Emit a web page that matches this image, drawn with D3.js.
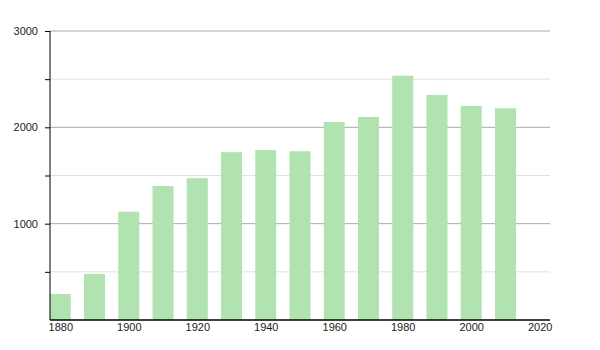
<!DOCTYPE html>
<html>
<head>
<meta charset="utf-8">
<script src="https://cdn.jsdelivr.net/npm/d3@7"></script>
<style>
body { margin: 0; background: #fff; }
text { font-family: "Liberation Sans", Arial, sans-serif; font-size: 11px; fill: #222; }
</style>
</head>
<body>
<div id="chart-area"></div>
<script>
// data
var years = [1880, 1890, 1900, 1910, 1920, 1930, 1940, 1950, 1960, 1970, 1980, 1990, 2000, 2010];
var population = [270, 478, 1124, 1391, 1472, 1742, 1763, 1752, 2055, 2107, 2536, 2336, 2222, 2198];
var xTicks = [1880, 1900, 1920, 1940, 1960, 1980, 2000, 2020];
var yTicks = [1000, 2000, 3000];
var yMinor = [500, 1500, 2500];

var svg = d3.select("#chart-area")
    .append("svg")
    .attr("width", 600)
    .attr("height", 350);

// X Scale
var x = d3.scaleLinear()
    .domain([1877, 2023])
    .range([50, 550]);

// Y Scale
var y = d3.scaleLinear()
    .domain([0, 3000])
    .range([320, 31]);

// grid lines
svg.selectAll("line.minor")
    .data(yMinor)
    .enter().append("line")
    .attr("class", "minor")
    .attr("x1", 50).attr("x2", 550)
    .attr("y1", function(d){ return y(d); })
    .attr("y2", function(d){ return y(d); })
    .attr("stroke", "#e0e0e0");

svg.selectAll("line.major")
    .data(yTicks)
    .enter().append("line")
    .attr("class", "major")
    .attr("x1", 50).attr("x2", 550)
    .attr("y1", function(d){ return y(d); })
    .attr("y2", function(d){ return y(d); })
    .attr("stroke", "#aaa");

// bars
svg.selectAll("rect")
    .data(years)
    .enter().append("rect")
    .attr("x", function(d){ return x(d) - 10.5; })
    .attr("width", 21)
    .attr("y", function(d, i){ return y(population[i]); })
    .attr("height", function(d, i){ return y(0) - y(population[i]); })
    .attr("fill", "#b1e3b0");

// Y Axis
var yAxisCall = d3.axisLeft(y)
    .tickValues(yMinor.concat(yTicks))
    .tickSize(5)
    .tickFormat(function(d){ return yTicks.indexOf(d) >= 0 ? d : ""; });

var yAxis = svg.append("g")
    .attr("transform", "translate(50,0)")
    .call(yAxisCall);
yAxis.select(".domain").attr("stroke", "#000").attr("d", "M0,31V320");
yAxis.selectAll(".tick line").attr("stroke", "#000");
yAxis.selectAll("text").attr("x", -12).style("font-size", "11px").attr("fill", "#222");

// X Axis
var xAxisCall = d3.axisBottom(x)
    .tickValues(xTicks)
    .tickSize(0)
    .tickFormat(d3.format("d"));

var xAxis = svg.append("g")
    .attr("transform", "translate(0,320)")
    .call(xAxisCall);
xAxis.select(".domain").attr("stroke", "#000").attr("stroke-width", 1.5).attr("d", "M50,0H550");
xAxis.selectAll("text").attr("y", 3).style("font-size", "11px").attr("fill", "#222");
</script>
</body>
</html>
